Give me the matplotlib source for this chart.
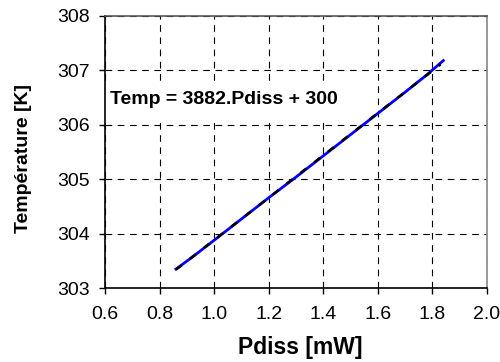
import matplotlib
matplotlib.use("Agg")
import matplotlib.pyplot as plt

plt.rcParams['font.family'] = ['Liberation Sans', 'DejaVu Sans']

# mesure (courbe bleue)
pdiss = [0.86, 0.92, 1.00, 1.10, 1.20, 1.30, 1.40, 1.50, 1.60, 1.70, 1.78, 1.84]
temp = [303.35, 303.57, 303.88, 304.27, 304.66, 305.04, 305.43, 305.82, 306.21, 306.60, 306.92, 307.18]

# droite de regression (tirets noirs)
fit_x = [0.86, 1.83]
fit_y = [303.34, 307.11]

xticks = [0.6, 0.8, 1.0, 1.2, 1.4, 1.6, 1.8, 2.0]
yticks = [303, 304, 305, 306, 307, 308]

fig = plt.figure(figsize=(5.0, 3.62), dpi=100)
ax = fig.add_axes([0.21, 0.204, 0.764, 0.752])

ax.plot(pdiss, temp, color='#0000ff', lw=2.0, zorder=3)
ax.plot(fit_x, fit_y, color='black', lw=1.8, ls=(0, (3, 4)), zorder=4)

ax.set_xlim(0.6, 2.0)
ax.set_ylim(303, 308)
ax.set_xticks(xticks)
ax.set_yticks(yticks)
ax.set_xticklabels(['%.1f' % v for v in xticks], fontsize=14)
ax.set_yticklabels([str(v) for v in yticks], fontsize=14)
ax.tick_params(direction='out', length=4.5, width=1, color='black')
ax.tick_params(axis='y', pad=6.5)
ax.tick_params(axis='x', pad=8.5)

ax.grid(True, color='black', ls=(0, (6, 5)), lw=0.8)
ax.set_axisbelow(True)

ax.spines['left'].set_color('black')
ax.spines['bottom'].set_color('black')
ax.spines['top'].set_color('#555555')
ax.spines['right'].set_color('#888888')
for s in ax.spines.values():
    s.set_linewidth(1.2)

ax.text(0.618, 306.46, 'Temp = 3882.Pdiss + 300', fontsize=14,
        fontweight='bold', va='center', ha='left', zorder=2,
        bbox=dict(boxstyle='square,pad=0.55', fc='white', ec='none'))

ax.set_xlabel('Pdiss [mW]', fontsize=16.5, fontweight='bold')
ax.set_ylabel('Température [K]', fontsize=14, fontweight='bold')
ax.xaxis.set_label_coords(0.512, -0.175)
ax.yaxis.set_label_coords(-0.191, 0.478)

fig.savefig('out.png', dpi=100)
